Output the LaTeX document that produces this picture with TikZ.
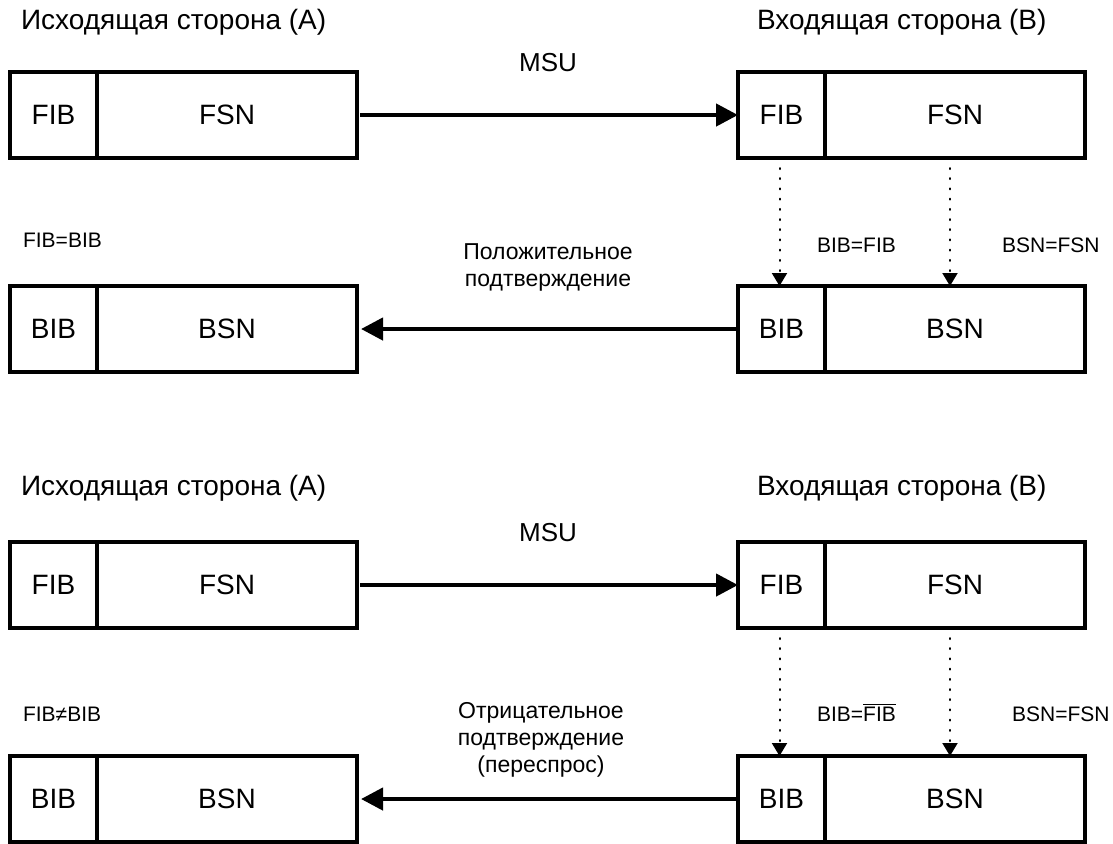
\documentclass[tikz,border=0pt]{standalone}
\usepackage{fontspec}
\setmainfont{Liberation Sans}
\usetikzlibrary{positioning, arrows.meta}

\begin{document}
\begin{tikzpicture}[x=0.5pt, y=-0.5pt, > = {Triangle[length=11pt, width=11pt]},
    cell/.style = {draw, line width=2pt, minimum height=43pt, inner sep=0pt, outer sep=0pt,
      font=\fontsize{14}{16}\selectfont},
    small/.style = {cell, minimum width=43.5pt},
    big/.style = {cell, minimum width=130pt},
    link/.style = {line width=2.2pt, ->},
    copyline/.style = {line width=1pt, dash pattern=on 0.5pt off 4.6pt, line cap=round,
      -{Triangle[length=6.5pt, width=7.5pt]}, shorten <=5pt},
    side/.style = {anchor=west, font=\fontsize{14}{16}\selectfont},
    note/.style = {anchor=west, font=\fontsize{10.5}{12}\selectfont},
    ack/.style = {align=center, font=\fontsize{11.5}{13.5}\selectfont},
    msg/.style = {font=\fontsize{13}{15}\selectfont}]
    \useasboundingbox (0,0) rectangle (1113,843);

    \node[side] (srcA1) at (14,22) {Исходящая сторона (A)};
    \node[side] (dstB1) at (750,22) {Входящая сторона (B)};
    \node[msg] (msu1) at (548,63) {MSU};

    \node[small] (fibA1) at (53.5,115) {FIB};
    \node[big] (fsnA1) [right=0pt of fibA1] {FSN};
    \node[small] (fibB1) at (781.5,115) {FIB};
    \node[big] (fsnB1) [right=0pt of fibB1] {FSN};
    \node[small] (bibA1) at (53.5,329) {BIB};
    \node[big] (bsnA1) [right=0pt of bibA1] {BSN};
    \node[small] (bibB1) at (781.5,329) {BIB};
    \node[big] (bsnB1) [right=0pt of bibB1] {BSN};

    \node[note] (eqA1) at (16,240) {FIB=BIB};
    \node[note] (eqB1) at (810,245) {BIB=FIB};
    \node[note] (eqS1) at (995,245) {BSN=FSN};
    \node[ack] (ack1) at (548,267) {Положительное\\подтверждение};

    \draw[link, shorten <=1.5pt] (fsnA1) -- (fibB1);
    \draw[link, shorten >=2pt] (bibB1) -- (bsnA1);
    \draw[copyline] ([xshift=-1pt]fibB1.south) -- ([xshift=-1pt]bibB1.north);
    \draw[copyline] ([xshift=-2.5pt]fsnB1.south) -- ([xshift=-2.5pt]bsnB1.north);

    \node[side] (srcA2) at (14,488) {Исходящая сторона (A)};
    \node[side] (dstB2) at (750,488) {Входящая сторона (B)};
    \node[msg] (msu2) at (548,533) {MSU};

    \node[small] (fibA2) at (53.5,585) {FIB};
    \node[big] (fsnA2) [right=0pt of fibA2] {FSN};
    \node[small] (fibB2) at (781.5,585) {FIB};
    \node[big] (fsnB2) [right=0pt of fibB2] {FSN};
    \node[small] (bibA2) at (53.5,799) {BIB};
    \node[big] (bsnA2) [right=0pt of bibA2] {BSN};
    \node[small] (bibB2) at (781.5,799) {BIB};
    \node[big] (bsnB2) [right=0pt of bibB2] {BSN};

    \node[note] (eqA2) at (16,714) {FIB≠BIB};
    \node[note] (eqB2) at (810,712) {BIB=$\overline{\mbox{FIB}}$};
    \node[note] (eqS2) at (1005,714) {BSN=FSN};
    \node[ack] (ack2) at (541,740) {Отрицательное\\подтверждение\\(переспрос)};

    \draw[link, shorten <=1.5pt] (fsnA2) -- (fibB2);
    \draw[link, shorten >=2pt] (bibB2) -- (bsnA2);
    \draw[copyline] ([xshift=-1pt]fibB2.south) -- ([xshift=-1pt]bibB2.north);
    \draw[copyline] ([xshift=-2.5pt]fsnB2.south) -- ([xshift=-2.5pt]bsnB2.north);
\end{tikzpicture}
\end{document}
